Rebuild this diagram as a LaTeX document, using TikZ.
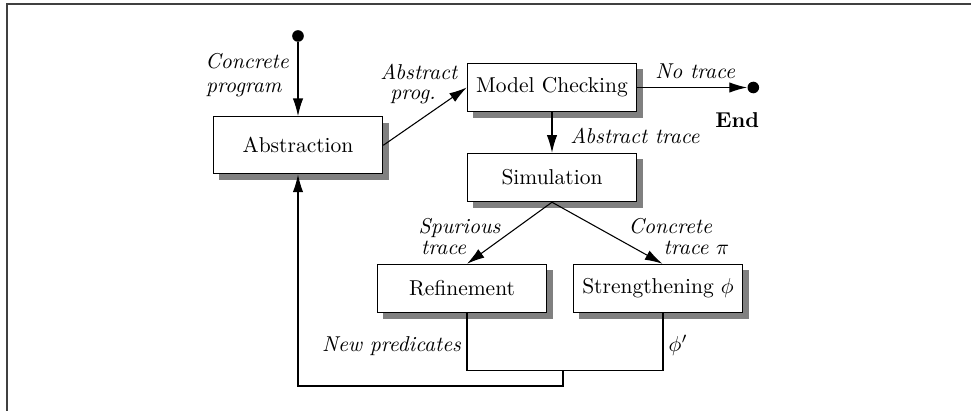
\documentclass[tikz,border=0pt]{standalone}
\usetikzlibrary{arrows.meta,shadows,calc}
\begin{document}
\begin{tikzpicture}[x=0.4651pt,y=-0.4651pt,
  box/.style={draw,line width=0.5pt,fill=white,rectangle,inner sep=0pt,
    minimum width=78.8pt,minimum height=22.5pt,
    drop shadow={shadow xshift=2.8pt,shadow yshift=-2.8pt,fill=black!50,opacity=1}},
  lbl/.style={anchor=base west,inner sep=0pt,font=\itshape},
  conn/.style={line width=0.5pt,-{Latex[length=8.2pt,width=4.8pt]}},
  plain/.style={line width=0.5pt},
  dot/.style={circle,fill=black,inner sep=0pt,minimum size=5.4pt},
  frameline/.style={line width=0.7pt,black!75}]
\useasboundingbox (0,0) rectangle (971,411);
\draw[frameline] (7,411) coordinate (fl) -- (7,4) coordinate (fc) -- (971,4) coordinate (fr);
% boxes
\node[box,minimum height=26.65pt] (abs) at (298,145.3) {Abstraction};
\node[box] (mc) at (552,87.5) {Model Checking};
\node[box] (sim) at (552,177.5) {Simulation};
\node[box] (ref) at (462,288.5) {Refinement};
\node[box] (str) at (658,288.5) {Strengthening $\phi$};
% dots
\node[dot] (start) at (298,36) {};
\node[dot] (enddot) at (753.3,87.5) {};
% connectors
\draw[conn] (start) -- (abs.north);
\draw[conn] (abs.east) -- (mc.west);
\draw[conn] (mc.east) -- (enddot.west);
\draw[conn] (mc.south) -- (sim.north);
\draw[conn] (sim.south) -- ($(ref.north)+(5,0)$);
\draw[conn] (sim.south) -- ($(str.north)+(4.5,0)$);
\coordinate (mb) at (563,370.7);
\coordinate (lp) at (563,386);
\draw[plain] ($(ref.south)+(5,0)$) |- (mb) -| ($(str.south)+(5,0)$);
\draw[conn] (mb) -- (lp) -| (abs.south);
% labels
\node[lbl] (l1a) at (205,68.3) {Concrete};
\node[lbl] (l1b) at (205.7,92.7) {program};
\node[lbl] (l2a) at (380,80) {Abstract};
\node[lbl] (l2b) at (390,99.3) {prog.};
\node[lbl] (l3) at (655,78.3) {No trace};
\node[anchor=base west,inner sep=0pt,font=\bfseries] (l4) at (715,127.7) {End};
\node[lbl] (l5) at (570,143.3) {Abstract trace};
\node[lbl] (l6a) at (418.3,233.3) {Spurious};
\node[lbl] (l6b) at (420.7,255) {trace};
\node[lbl] (l7a) at (628.3,233.3) {Concrete};
\node[lbl] (l7b) at (663.3,255) {trace $\pi$};
\node[lbl] (l8) at (321.7,351.7) {New predicates};
\node[lbl] (l9) at (668.3,351.7) {$\phi'$};
\end{tikzpicture}
\end{document}
